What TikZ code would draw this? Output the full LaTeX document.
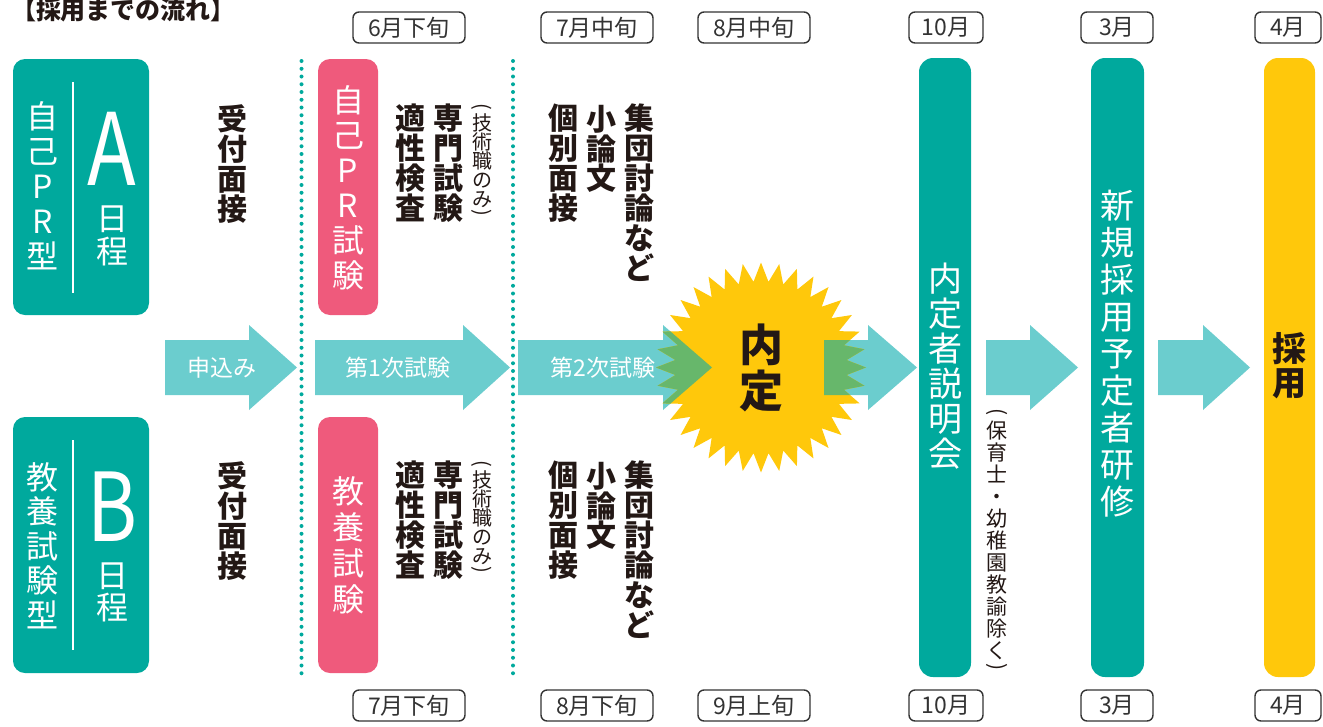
\documentclass[tikz,border=0pt]{standalone}
\usepackage{fontspec}
\setmainfont{Noto Sans CJK JP}
\definecolor{tealc}{HTML}{00A99D}
\definecolor{arrowc}{HTML}{6BCDCE}
\definecolor{pinkc}{HTML}{EF5A7C}
\definecolor{yelc}{HTML}{FFC80B}
\definecolor{grnc}{HTML}{67B76B}
\definecolor{ink}{HTML}{231815}
\definecolor{boxline}{HTML}{333333}
\newcommand\fs[1]{\fontsize{#1}{#1}\selectfont}
\newlength\vtadv
\def\vtend{VTEND}
\def\vtloop#1{\ifx#1\vtend\else\vtchar{#1}\expandafter\vtloop\fi}
\def\vtchar#1{\hbox to 1.2em{\hss\vrule width 0pt height \dimexpr 0.38em+0.5\vtadv\relax depth \dimexpr 0.5\vtadv-0.38em\relax\relax #1\hss}}
\def\vtpar#1{\hbox to 1.2em{\hss\vbox to 0.6\vtadv{\vss\hbox{\rotatebox[origin=c]{-90}{#1}}\vss\kern0pt}\hss}}
\newcommand\vt[2]{\setlength\vtadv{#1}\vbox{\offinterlineskip\vtloop#2\vtend}}
\newcommand\vtp[2]{\setlength\vtadv{#1}\vbox{\offinterlineskip\vtpar{(}\vtloop#2\vtend\vtpar{)}}}
\newcommand\blockarrow[4][arrowc]{\fill[#1] (#2,340) -- (#3,340) -- (#3,325) -- (#4,367.5) -- (#3,410) -- (#3,395) -- (#2,395) -- cycle;}
\newcommand\starburst{plot[samples at={0,...,71}, variable=\i] ({761+ifthenelse(isodd(\i),86,105)*cos(90+5*\i)}, {367.5+ifthenelse(isodd(\i),86,105)*sin(90+5*\i)}) -- cycle}
\tikzset{
  vtx/.style={inner sep=0pt, anchor=center},
  panel/.style={inner sep=0pt, rounded corners=12pt},
  datebox/.style={draw=boxline, line width=1.4pt, rounded corners=6pt, fill=white,
    minimum height=31pt, inner sep=0pt, text=boxline, font=\fs{23}},
  dotline/.style={tealc, line width=4pt, line cap=round, dash pattern=on 0pt off 7.75pt},
}
\begin{document}
\begin{tikzpicture}[x=1pt,y=-1pt]
\useasboundingbox (0,0) rectangle (1323,726);
\clip (0,0) rectangle (1323,726);

% title
\node[anchor=base, inner sep=0pt, font=\fs{25}\bfseries, text=ink] (title) at (123.5,19.5) {【採用までの流れ】};

% A / B panels
\node[panel, fill=tealc, minimum width=136pt, minimum height=256pt] (boxA) at (81,187) {};
\node[panel, fill=tealc, minimum width=136pt, minimum height=256pt] (boxB) at (81,545) {};
\draw[white, line width=1.3pt] (73,82) -- (73,293);
\draw[white, line width=1.3pt] (73,440) -- (73,650);
\node[vtx, text=white, font=\fs{32}] (typeA) at (43,186) {\vt{35pt}{自己PR型}};
\node[vtx, text=white, font=\fs{100}] (letA) at (112,148.5) {\scalebox{0.8}[1]{A}};
\node[vtx, text=white, font=\fs{32}] (dayA) at (112,235) {\vt{33pt}{日程}};
\node[vtx, text=white, font=\fs{32}] (typeB) at (43,546) {\vt{34.5pt}{教養試験型}};
\node[vtx, text=white, font=\fs{95}] (letB) at (112,507) {\scalebox{0.8}[1]{B}};
\node[vtx, text=white, font=\fs{32}] (dayB) at (112,591) {\vt{32pt}{日程}};

% uketsuke
\node[vtx, text=ink, font=\fs{30}\bfseries] (ukeA) at (232,164) {\vt{30pt}{受付面接}};
\node[vtx, text=ink, font=\fs{30}\bfseries] (ukeB) at (232,521) {\vt{30pt}{受付面接}};

% dotted separators
\draw[dotline] (301.5,61) -- (301.5,680);
\draw[dotline] (513,61) -- (513,680);

% pink panels
\node[panel, fill=pinkc, minimum width=60pt, minimum height=256pt] (pinkA) at (348,187) {};
\node[panel, fill=pinkc, minimum width=60pt, minimum height=256pt] (pinkB) at (348,545) {};
\node[vtx, text=white, font=\fs{32}] (prA) at (348,188) {\vt{35pt}{自己PR試験}};
\node[vtx, text=white, font=\fs{32}] (kyB) at (348,545) {\vt{36pt}{教養試験}};

% first exam items
\node[vtx, text=ink, font=\fs{30}\bfseries] (tekiA) at (410,163) {\vt{30pt}{適性検査}};
\node[vtx, text=ink, font=\fs{30}\bfseries] (senA) at (448,163) {\vt{30pt}{専門試験}};
\node[vtx, text=ink, font=\fs{20}] (gijA) at (482,161) {\vtp{19pt}{技術職のみ}};
\node[vtx, text=ink, font=\fs{30}\bfseries] (tekiB) at (410,520) {\vt{30pt}{適性検査}};
\node[vtx, text=ink, font=\fs{30}\bfseries] (senB) at (448,520) {\vt{30pt}{専門試験}};
\node[vtx, text=ink, font=\fs{20}] (gijB) at (482,518) {\vtp{19pt}{技術職のみ}};

% second exam items
\node[vtx, text=ink, font=\fs{30}\bfseries] (shuA) at (639,193) {\vt{30pt}{集団討論など}};
\node[vtx, text=ink, font=\fs{30}\bfseries] (shoA) at (601,149) {\vt{29.5pt}{小論文}};
\node[vtx, text=ink, font=\fs{30}\bfseries] (koA) at (563,163) {\vt{30pt}{個別面接}};
\node[vtx, text=ink, font=\fs{30}\bfseries] (shuB) at (639,550) {\vt{30pt}{集団討論など}};
\node[vtx, text=ink, font=\fs{30}\bfseries] (shoB) at (601,506) {\vt{29.5pt}{小論文}};
\node[vtx, text=ink, font=\fs{30}\bfseries] (koB) at (563,520) {\vt{30pt}{個別面接}};

% block arrows
\blockarrow{165}{249}{297}
\blockarrow{315}{463}{510}
\blockarrow{518}{663}{712}
\blockarrow{824}{868}{917}
\blockarrow{986}{1030}{1078}
\blockarrow{1158}{1203}{1250}
\node[vtx, text=white, font=\fs{23}] (moshi) at (222,368) {申込み};
\node[vtx, text=white, font=\fs{23}] (ichiji) at (398,368) {第1次試験};
\node[vtx, text=white, font=\fs{23}] (niji) at (603,368) {第2次試験};

% starburst (green where it overlaps the arrows)
\fill[yelc] \starburst;
\begin{scope}
  \clip \starburst;
  \blockarrow[grnc]{518}{663}{712}
  \blockarrow[grnc]{824}{868}{917}
\end{scope}
\node[vtx, text=ink, font=\fs{44}\bfseries] (naitei) at (761,367.5) {\vt{46pt}{内定}};

% vertical bars
\node[panel, rounded corners=14pt, fill=tealc, minimum width=52pt, minimum height=619pt] (bar1) at (945,367.5) {};
\node[panel, rounded corners=14pt, fill=tealc, minimum width=53pt, minimum height=619pt] (bar2) at (1117.5,367.5) {};
\node[panel, rounded corners=14pt, fill=yelc, minimum width=51pt, minimum height=619pt] (bar3) at (1289.5,367.5) {};
\node[vtx, text=white, font=\fs{34}] (setsu) at (945,366) {\vt{35pt}{内定者説明会}};
\node[vtx, text=ink, font=\fs{21}] (hoiku) at (997,541) {\vtp{22pt}{保育士・幼稚園教諭除く}};
\node[vtx, text=white, font=\fs{34}] (kenshu) at (1117.5,354) {\vt{37pt}{新規採用予定者研修}};
\node[vtx, text=ink, font=\fs{34}\bfseries] (saiyo) at (1289.5,366) {\vt{34pt}{採用}};

% date boxes
\node[datebox, minimum width=112pt] (t1) at (409,27.5) {6月下旬};
\node[datebox, minimum width=112pt] (t2) at (597,27.5) {7月中旬};
\node[datebox, minimum width=112pt] (t3) at (754,27.5) {8月中旬};
\node[datebox, minimum width=74pt] (t4) at (946,27.5) {10月};
\node[datebox, minimum width=72pt] (t5) at (1117,27.5) {3月};
\node[datebox, minimum width=66pt] (t6) at (1288,27.5) {4月};
\node[datebox, minimum width=112pt] (b1) at (409,705.5) {7月下旬};
\node[datebox, minimum width=112pt] (b2) at (597,705.5) {8月下旬};
\node[datebox, minimum width=112pt] (b3) at (754,705.5) {9月上旬};
\node[datebox, minimum width=74pt] (b4) at (946,705.5) {10月};
\node[datebox, minimum width=72pt] (b5) at (1117,705.5) {3月};
\node[datebox, minimum width=66pt] (b6) at (1288,705.5) {4月};
\end{tikzpicture}
\end{document}
